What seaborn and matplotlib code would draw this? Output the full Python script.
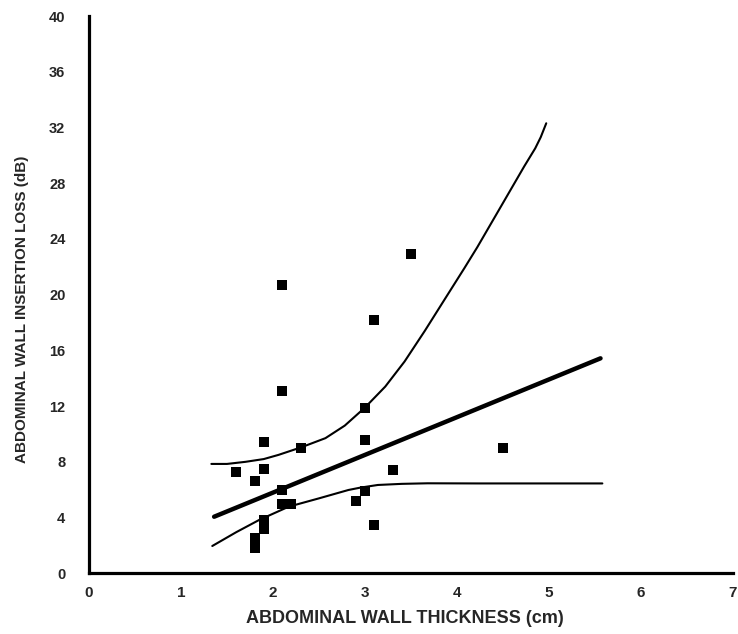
import pandas as pd
import seaborn as sns
import matplotlib.pyplot as plt

# thickness (cm) and insertion loss (dB)
thickness = [1.6, 1.8, 1.8, 1.8, 1.9, 1.9, 1.9, 1.9, 2.1, 2.1, 2.1, 2.1,
             2.2, 2.3, 2.9, 3.0, 3.0, 3.0, 3.1, 3.1, 3.3, 3.5, 4.5]
loss = [7.3, 6.6, 2.5, 1.8, 9.4, 7.5, 3.8, 3.2, 20.7, 13.1, 6.0, 5.0,
        5.0, 9.0, 5.2, 9.6, 11.9, 5.9, 18.2, 3.5, 7.4, 22.9, 9.0]

# regression line end points
fit_x = [1.36, 5.56]
fit_y = [4.06, 15.43]

# upper and lower confidence curves
upper_x = [1.33, 1.50, 1.70, 1.90, 2.06, 2.31, 2.57, 2.78, 3.0, 3.22, 3.43,
           3.65, 3.86, 4.08, 4.22, 4.44, 4.73, 4.85, 4.91, 4.97]
upper_y = [7.85, 7.85, 8.0, 8.2, 8.5, 9.05, 9.7, 10.6, 11.9, 13.4, 15.2,
           17.4, 19.6, 21.9, 23.4, 25.9, 29.2, 30.5, 31.3, 32.3]
lower_x = [1.34, 1.60, 1.85, 2.17, 2.50, 2.82, 2.95, 3.14, 3.40, 3.68,
           4.22, 5.58]
lower_y = [1.96, 2.95, 3.83, 4.78, 5.38, 5.98, 6.15, 6.34, 6.42, 6.46,
           6.45, 6.45]

df = pd.DataFrame({'thickness': thickness, 'loss': loss})

sns.set_style('white')
plt.rcParams['font.family'] = ['Liberation Sans', 'DejaVu Sans']
plt.rcParams['font.weight'] = 'bold'

fig = plt.figure(figsize=(7.38, 6.34), dpi=100)
ax = fig.add_axes([89 / 738, 60.7 / 634, 644 / 738, 557.3 / 634])

# confidence curves
sns.lineplot(x=upper_x, y=upper_y, ax=ax, color='black', linewidth=1.5,
             sort=False, estimator=None)
sns.lineplot(x=lower_x, y=lower_y, ax=ax, color='black', linewidth=1.5,
             sort=False, estimator=None)
# regression line
sns.lineplot(x=fit_x, y=fit_y, ax=ax, color='black', linewidth=3.2,
             estimator=None)

# data points
sns.scatterplot(data=df, x='thickness', y='loss', ax=ax, marker='s',
                s=55, color='black', edgecolor='black', linewidth=0, zorder=5)

ax.set_xlim(0, 7)
ax.set_ylim(0, 40)
ax.set_xticks(range(0, 8))
ax.set_yticks(range(0, 41, 4))

sns.despine(ax=ax)
for side in ['left', 'bottom']:
    ax.spines[side].set_linewidth(2.3)
    ax.spines[side].set_color('black')

ax.tick_params(axis='x', length=0, pad=9, labelsize=11)
ax.tick_params(axis='y', length=0, pad=17, labelsize=10.5)
for lbl in ax.get_xticklabels() + ax.get_yticklabels():
    lbl.set_fontweight('bold')

ax.set_xlabel('ABDOMINAL WALL THICKNESS (cm)', fontsize=13, fontweight='bold')
ax.set_ylabel('ABDOMINAL WALL INSERTION LOSS (dB)', fontsize=11, fontweight='bold')
ax.xaxis.set_label_coords(0.491, -0.066)
ax.yaxis.set_label_coords(-0.093, 0.473)

fig.savefig('out.png', dpi=100)
